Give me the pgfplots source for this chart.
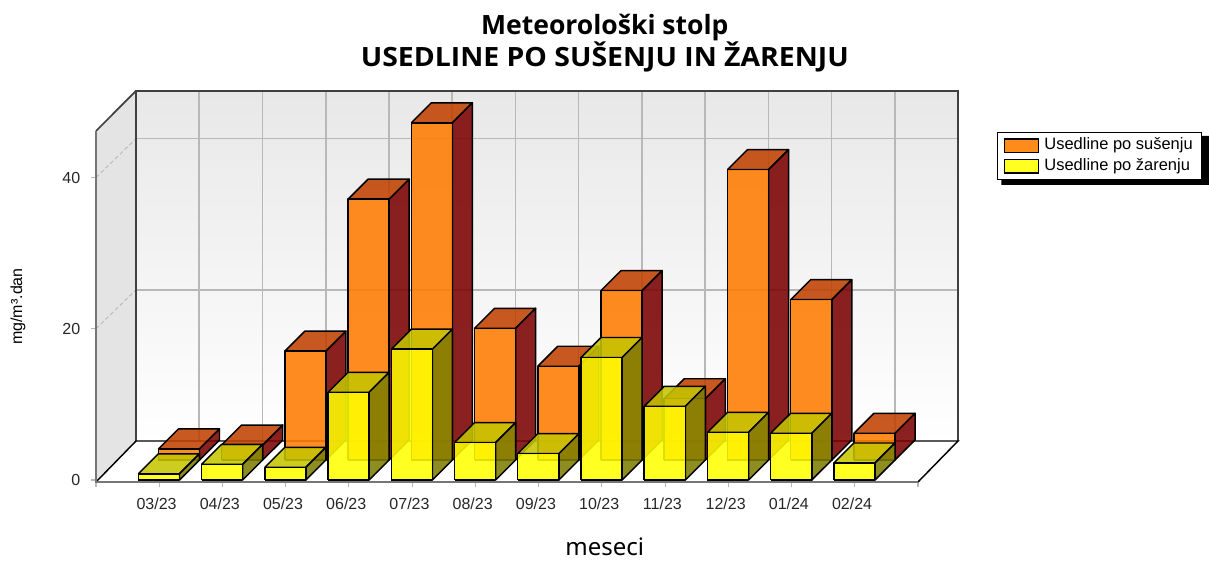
\documentclass[border=0pt]{standalone}
\usepackage{pgfplots}
\pgfplotsset{compat=1.18}
\usepackage{fontspec}
\setmainfont{Liberation Sans}
\newfontfamily\titlefont{Noto Sans}
\newfontfamily\titleboldfont{Open Sans}
\newfontfamily\titlecaps[FakeStretch=1.07]{Open Sans}
\definecolor{oF}{RGB}{255,123,0}
\definecolor{oS}{RGB}{122,0,0}
\definecolor{oT}{RGB}{192,65,0}
\definecolor{yF}{RGB}{255,255,0}
\definecolor{yS}{RGB}{125,125,0}
\definecolor{yT}{RGB}{197,197,0}
\definecolor{gridc}{RGB}{184,184,184}
\definecolor{axc}{RGB}{118,118,118}
% cat index, value, x offset, y offset, front, side, top
\newcommand{\threedbar}[7]{%
  \pgfmathsetmacro{\xa}{#1-0.33+#3}%
  \pgfmathsetmacro{\xb}{#1+0.32+#3}%
  \pgfmathsetmacro{\ya}{#4}%
  \pgfmathsetmacro{\yb}{#4+#2}%
  \pgfmathsetmacro{\xc}{\xa+0.3165}%
  \pgfmathsetmacro{\xd}{\xb+0.3165}%
  \pgfmathsetmacro{\ye}{\ya+2.6455}%
  \pgfmathsetmacro{\yf}{\yb+2.6455}%
  \addplot[forget plot,draw=black,line width=1.1pt,fill=#7,fill opacity=0.87,line join=round] coordinates {(\xa,\yb) (\xc,\yf) (\xd,\yf) (\xb,\yb) (\xa,\yb)};
  \addplot[forget plot,draw=black,line width=1.1pt,fill=#6,fill opacity=0.87,line join=round] coordinates {(\xb,\ya) (\xd,\ye) (\xd,\yf) (\xb,\yb) (\xb,\ya)};
  \addplot[forget plot,draw=black,line width=1.1pt,fill=#5,fill opacity=0.87,line join=round] coordinates {(\xa,\ya) (\xb,\ya) (\xb,\yb) (\xa,\yb) (\xa,\ya)};
}
\newcommand{\orangebar}[2]{\threedbar{#1}{#2}{0.3165}{2.6455}{oF}{oS}{oT}}
\newcommand{\yellowbar}[2]{\threedbar{#1}{#2}{0}{0}{yF}{yS}{yT}}
\begin{document}
\begin{tikzpicture}[x=1pt,y=1pt]
\path[use as bounding box] (0,0) rectangle (906.75pt,420pt);
\begin{axis}[
  at={(72pt,58.5pt)},anchor=south west,
  scale only axis,width=616.5pt,height=263.25pt,
  xmin=0,xmax=13,ymin=-0.2646,ymax=46.16,
  clip=false,
  axis x line*=bottom,axis y line*=left,
  axis line style={draw=axc,line width=1.9pt,-},
  xtick={0,1,2,3,4,5,6,7,8,9,10,11,12,13},
  xticklabels={,03/23,04/23,05/23,06/23,07/23,08/23,09/23,10/23,11/23,12/23,01/24,02/24,},
  ytick={0,20,40},
  tick style={draw=gridc,line width=0.8pt},
  major tick length=3.75pt,
  tick align=outside,
  /pgf/number format/assume math mode=true,
  ticklabel style={font=\fontsize{12pt}{14pt}\selectfont,text=black!85},
  xticklabel style={xshift=-2pt,yshift=-4.75pt},
  yticklabel style={xshift=-4.5pt},
  title={\titleboldfont\bfseries\fontsize{19.9pt}{26.25pt}\selectfont Meteorološki stolp\\\titlecaps\bfseries\fontsize{19.9pt}{26.25pt}\selectfont USEDLINE PO SUŠENJU IN ŽARENJU},
  title style={at={(axis description cs:0.619,1.2277)},anchor=center,align=center},
  xlabel={meseci},
  xlabel style={at={(axis description cs:0.619,-0.184)},anchor=center,
    font=\titlefont\fontsize{18pt}{22pt}\selectfont},
  ylabel={mg/m³.dan},
  ylabel style={at={(axis description cs:-0.095,0.5)},anchor=center,
    font=\fontsize{12pt}{14pt}\selectfont},
  legend style={at={(axis description cs:1.0955,0.998)},anchor=north west,
    draw=black,line width=0.9pt,fill=white,
    font=\fontsize{12.35pt}{14pt}\selectfont,
    inner xsep=5pt,inner ysep=2.65pt,row sep=0.3pt,
    nodes={inner sep=1.5pt,text height=9pt,text depth=3pt}},
  legend cell align=left,
]
% walls and floor
\addplot[forget plot,draw=none,fill=white] coordinates {(0,-0.2646) (13,-0.2646) (13.633,5.16) (0.633,5.16) (0,-0.2646)};
\addplot[forget plot,draw=none,fill={rgb,255:red,228;green,228;blue,228}] coordinates {(0,-0.2646) (0.633,5.16) (0.633,51.46) (0,46.16) (0,-0.2646)};
\addplot[forget plot,draw=none,top color={rgb,255:red,232;green,232;blue,232},bottom color=white] coordinates {(0.633,5.16) (13.633,5.16) (13.633,51.46) (0.633,51.46) (0.633,5.16)};
% back grid
\addplot[forget plot,gridc,line width=1.2pt] coordinates {(0.633,25.16) (13.633,25.16)};
\addplot[forget plot,gridc,line width=1.2pt] coordinates {(0.633,45.16) (13.633,45.16)};
\addplot[forget plot,gridc,line width=0.7pt,densely dashed] coordinates {(0,20) (0.633,25.16)};
\addplot[forget plot,gridc,line width=0.7pt,densely dashed] coordinates {(0,40) (0.633,45.16)};
\addplot[forget plot,gridc,line width=1.2pt] coordinates {(1.633,5.16) (1.633,51.46)};
\addplot[forget plot,gridc,line width=1.2pt] coordinates {(2.633,5.16) (2.633,51.46)};
\addplot[forget plot,gridc,line width=1.2pt] coordinates {(3.633,5.16) (3.633,51.46)};
\addplot[forget plot,gridc,line width=1.2pt] coordinates {(4.633,5.16) (4.633,51.46)};
\addplot[forget plot,gridc,line width=1.2pt] coordinates {(5.633,5.16) (5.633,51.46)};
\addplot[forget plot,gridc,line width=1.2pt] coordinates {(6.633,5.16) (6.633,51.46)};
\addplot[forget plot,gridc,line width=1.2pt] coordinates {(7.633,5.16) (7.633,51.46)};
\addplot[forget plot,gridc,line width=1.2pt] coordinates {(8.633,5.16) (8.633,51.46)};
\addplot[forget plot,gridc,line width=1.2pt] coordinates {(9.633,5.16) (9.633,51.46)};
\addplot[forget plot,gridc,line width=1.2pt] coordinates {(10.633,5.16) (10.633,51.46)};
\addplot[forget plot,gridc,line width=1.2pt] coordinates {(11.633,5.16) (11.633,51.46)};
\addplot[forget plot,gridc,line width=1.2pt] coordinates {(12.633,5.16) (12.633,51.46)};
% frame
\addplot[forget plot,black!75,line width=1.5pt] coordinates {(0.633,5.16) (0.633,51.46) (13.633,51.46) (13.633,5.16)};
\addplot[forget plot,black,line width=1.1pt] coordinates {(0,-0.2646) (0.633,5.16) (13.633,5.16) (13,-0.2646)};
\addplot[forget plot,black!75,line width=1.3pt] coordinates {(0,46.16) (0.633,51.46)};
\addplot[forget plot,axc,line width=1.9pt] coordinates {(0,46.16) (0,-0.2646) (13,-0.2646)};
% orange series (Usedline po sušenju)
\orangebar{1}{1.46}
\orangebar{2}{1.98}
\orangebar{3}{14.4}
\orangebar{4}{34.5}
\orangebar{5}{44.6}
\orangebar{6}{17.42}
\orangebar{7}{12.4}
\orangebar{8}{22.4}
\orangebar{9}{8.1}
\orangebar{10}{38.4}
\orangebar{11}{21.2}
\orangebar{12}{3.53}
% yellow series (Usedline po žarenju)
\yellowbar{1}{0.82}
\yellowbar{2}{2.08}
\yellowbar{3}{1.68}
\yellowbar{4}{11.6}
\yellowbar{5}{17.3}
\yellowbar{6}{4.94}
\yellowbar{7}{3.48}
\yellowbar{8}{16.2}
\yellowbar{9}{9.75}
\yellowbar{10}{6.3}
\yellowbar{11}{6.18}
\yellowbar{12}{2.25}
% legend shadow
\addplot[forget plot,draw=none,fill=black] coordinates {(14.32,45.5) (17.61,45.5) (17.61,39.02) (14.32,39.02) (14.32,45.5)};
\addlegendimage{legend image code/.code={\path[draw=black,line width=1pt,fill={rgb,255:red,255;green,140;blue,26}] (0pt,-5pt) rectangle (25.5pt,5pt);\path[draw=none,fill=none] (28.5pt,0pt) circle (0pt);}}
\addlegendentry{Usedline po sušenju\hspace{11pt}}
\addlegendimage{legend image code/.code={\path[draw=black,line width=1pt,fill={rgb,255:red,255;green,255;blue,33}] (0pt,-5pt) rectangle (25.5pt,5pt);\path[draw=none,fill=none] (28.5pt,0pt) circle (0pt);}}
\addlegendentry{Usedline po žarenju\hspace{11pt}}
\end{axis}
\end{tikzpicture}
\end{document}
